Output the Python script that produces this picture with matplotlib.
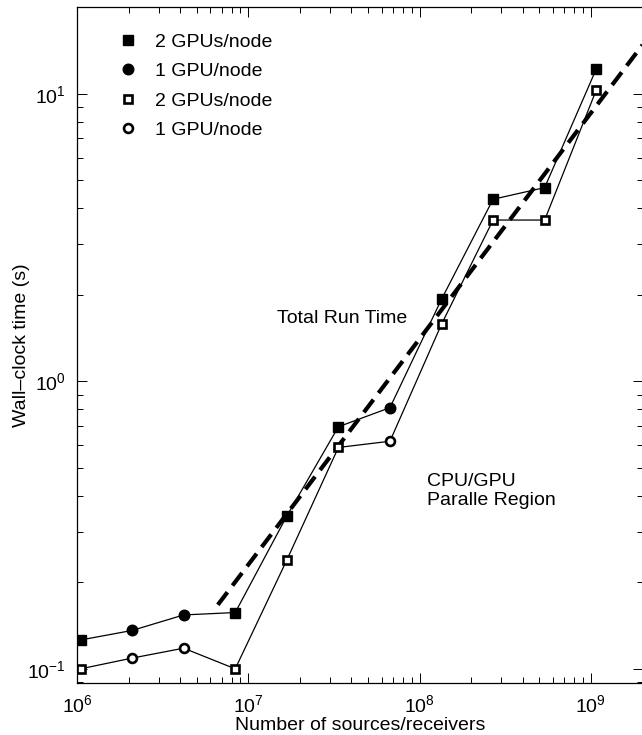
import numpy as np
import matplotlib
matplotlib.use("Agg")
import matplotlib.pyplot as plt
from matplotlib.lines import Line2D

plt.rcParams['font.family'] = ['Liberation Sans', 'DejaVu Sans']
plt.rcParams['mathtext.fontset'] = 'custom'
plt.rcParams['mathtext.rm'] = 'Liberation Sans'
plt.rcParams['font.size'] = 14

# number of sources/receivers (doubling each step)
n_src = [1048576, 2097152, 4194304, 8388608, 16777216, 33554432,
         67108864, 134217728, 268435456, 536870912, 1073741824]
# GPUs per node used at each point (2 -> square, 1 -> circle)
gpus = [2, 1, 1, 2, 2, 2, 1, 2, 2, 2, 2]
# wall-clock times
total_time = [0.126, 0.136, 0.154, 0.157, 0.34, 0.695, 0.81, 1.93, 4.30, 4.72, 12.2]
region_time = [0.100, 0.109, 0.118, 0.100, 0.239, 0.589, 0.619, 1.58, 3.64, 3.64, 10.3]
# trend line end points
trend_x = [6.64e6, 2.0e9]
trend_y = [0.167, 14.8]

fig = plt.figure(figsize=(6.42, 7.35), dpi=100)
ax = fig.add_axes([77/642, (735-682.7)/735, 565.5/642, 676/735])

x = np.array(n_src)
g = np.array(gpus)
yt = np.array(total_time)
yr = np.array(region_time)

ax.plot(trend_x, trend_y, color='black', lw=3.0, ls=(0, (3.8, 2.0)), zorder=1)
ax.plot(x, yt, color='black', lw=0.9, zorder=2)
ax.plot(x, yr, color='black', lw=0.9, zorder=2)

two = g == 2
one = g == 1
ax.plot(x[two], yt[two], ls='none', marker='s', ms=6.8, mfc='black', mec='black', zorder=3)
ax.plot(x[one], yt[one], ls='none', marker='o', ms=7.6, mfc='black', mec='black', zorder=3)
ax.plot(x[two], yr[two], ls='none', marker='s', ms=5.6, mfc='white', mec='black', mew=1.9, zorder=3)
ax.plot(x[one], yr[one], ls='none', marker='o', ms=6.4, mfc='white', mec='black', mew=1.9, zorder=3)

ax.set_xscale('log')
ax.set_yscale('log')
ax.set_xlim(1e6, 2e9)
ax.set_ylim(0.0895, 20.1)

ax.tick_params(which='both', direction='in', top=True, right=True, width=0.7)
ax.tick_params(which='major', length=7, pad=8, labelsize=14)
ax.tick_params(which='minor', length=4.5)
for s in ax.spines.values():
    s.set_linewidth(0.9)

ax.set_xlabel('Number of sources/receivers', fontsize=14, labelpad=1)
ax.set_ylabel('Wall\u2013clock time (s)', fontsize=14, labelpad=-2)

ax.text(1.47e7, 1.66, 'Total Run Time', fontsize=14, va='center', ha='left')
ax.text(1.1e8, 0.416, 'CPU/GPU\nParalle Region', fontsize=14, va='center', ha='left',
        linespacing=1.1)

handles = [
    Line2D([], [], ls='none', marker='s', ms=6.8, mfc='black', mec='black'),
    Line2D([], [], ls='none', marker='o', ms=7.6, mfc='black', mec='black'),
    Line2D([], [], ls='none', marker='s', ms=5.6, mfc='white', mec='black', mew=1.9),
    Line2D([], [], ls='none', marker='o', ms=6.4, mfc='white', mec='black', mew=1.9),
]
labels = ['2 GPUs/node', '1 GPU/node', '2 GPUs/node', '1 GPU/node']
ax.legend(handles, labels, loc='upper left', bbox_to_anchor=(0.056, 0.972),
          frameon=False, fontsize=14, handlelength=1.2, handletextpad=0.8,
          labelspacing=0.6, borderaxespad=0)

fig.savefig('out.png', dpi=100)
